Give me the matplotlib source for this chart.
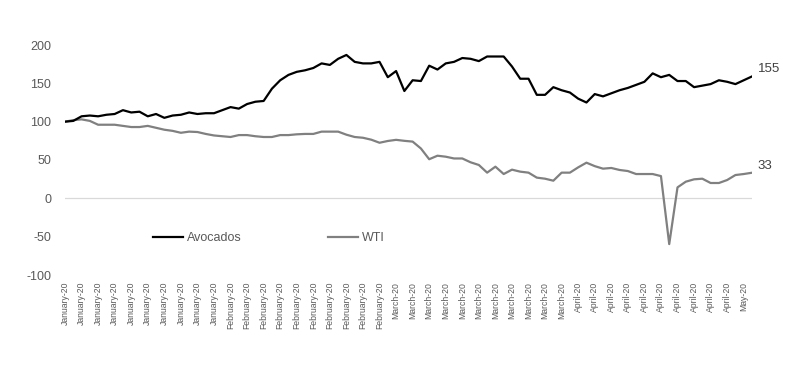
import numpy as np
import matplotlib
matplotlib.use("Agg")
import matplotlib.pyplot as plt

plt.rcParams['font.family'] = ['Liberation Sans', 'DejaVu Sans']
plt.rcParams['axes.unicode_minus'] = False

# month label for each trading day (one label per point)
months = ["January-20", "February-20", "March-20", "April-20", "May-20"]
days_per_month = [20, 19, 22, 21, 2]

# indexed prices (start = 100)
avocados = [100, 101, 107, 108, 107, 109, 110, 115, 112, 113,
            107, 110, 105, 108, 109, 112, 110, 111, 111, 115,
            119, 117, 123, 126, 127, 143, 154, 161, 165, 167,
            170, 176, 174, 182, 187, 178, 176, 176, 178, 158,
            166, 140, 154, 153, 173, 168, 176, 178, 183, 182,
            179, 185, 185, 185, 172, 156, 156, 135, 135, 145,
            141, 138, 130, 125, 136, 133, 137, 141, 144, 148,
            152, 163, 158, 161, 153, 153, 145, 147, 149, 154,
            152, 149, 154, 159]
wti = [100, 102, 103, 101, 96, 96, 96, 94.5, 93, 93,
       94.5, 92, 89.5, 88, 85.5, 87, 86.5, 84, 82, 81,
       80, 82.5, 82.5, 81, 80, 80, 82.5, 82.5, 83.5, 84,
       84, 87, 87, 87, 83, 80, 79, 76.5, 72.5, 74.8,
       76.3, 75, 74, 65, 51, 55.6, 54.3, 52, 52, 47,
       43.5, 33.5, 41.3, 31.7, 37.4, 34.8, 33.5, 27, 25.6, 23,
       33.5, 33.5, 40.4, 46.5, 42, 38.7, 39.6, 37, 35.6, 31.7,
       31.7, 31.7, 29, -59.7, 14.3, 21.7, 24.8, 25.6, 20, 20,
       23.9, 30.4, 31.7, 33.4]
end_labels = ["155", "33"]

labels = []
for m, n in zip(months, days_per_month):
    labels += [m] * n
x = np.arange(len(labels))

fig = plt.figure(figsize=(7.94, 3.71), dpi=100)
ax = fig.add_axes([65 / 794, 1 - 275 / 371, (752 - 65) / 794, (275 - 45) / 371])

ax.axhline(0, color='#d9d9d9', lw=0.9, zorder=1)
ax.plot(x, avocados, color='black', lw=1.6, label='Avocados', zorder=3)
ax.plot(x, wti, color='#808080', lw=1.6, label='WTI', zorder=2)

ax.annotate(end_labels[0], (x[-1], avocados[-1]), xytext=(4, 5), textcoords='offset points',
            fontsize=9.5, color='#404040', va='center', ha='left', annotation_clip=False)
ax.annotate(end_labels[1], (x[-1], wti[-1]), xytext=(4, 5), textcoords='offset points',
            fontsize=9.5, color='#404040', va='center', ha='left', annotation_clip=False)

ax.set_xlim(0, len(x) - 1)
ax.set_ylim(-100, 200)
ax.set_yticks(np.arange(-100, 201, 50))
ax.set_xticks(x[::2])
ax.set_xticklabels(labels[::2], rotation=90, fontsize=6.2, color='#595959')
ax.tick_params(axis='x', length=0, pad=5)
ax.tick_params(axis='y', length=0, pad=10, labelsize=9, labelcolor='#595959')
for s in ax.spines.values():
    s.set_visible(False)

fig.legend(loc='center left', bbox_to_anchor=(153 / 794, 1 - 238 / 371), ncol=2,
           frameon=False, fontsize=9, handlelength=2.4, handletextpad=0.3,
           columnspacing=6.9, borderpad=0, borderaxespad=0, labelcolor='#595959')

fig.savefig('out.png', dpi=100)
